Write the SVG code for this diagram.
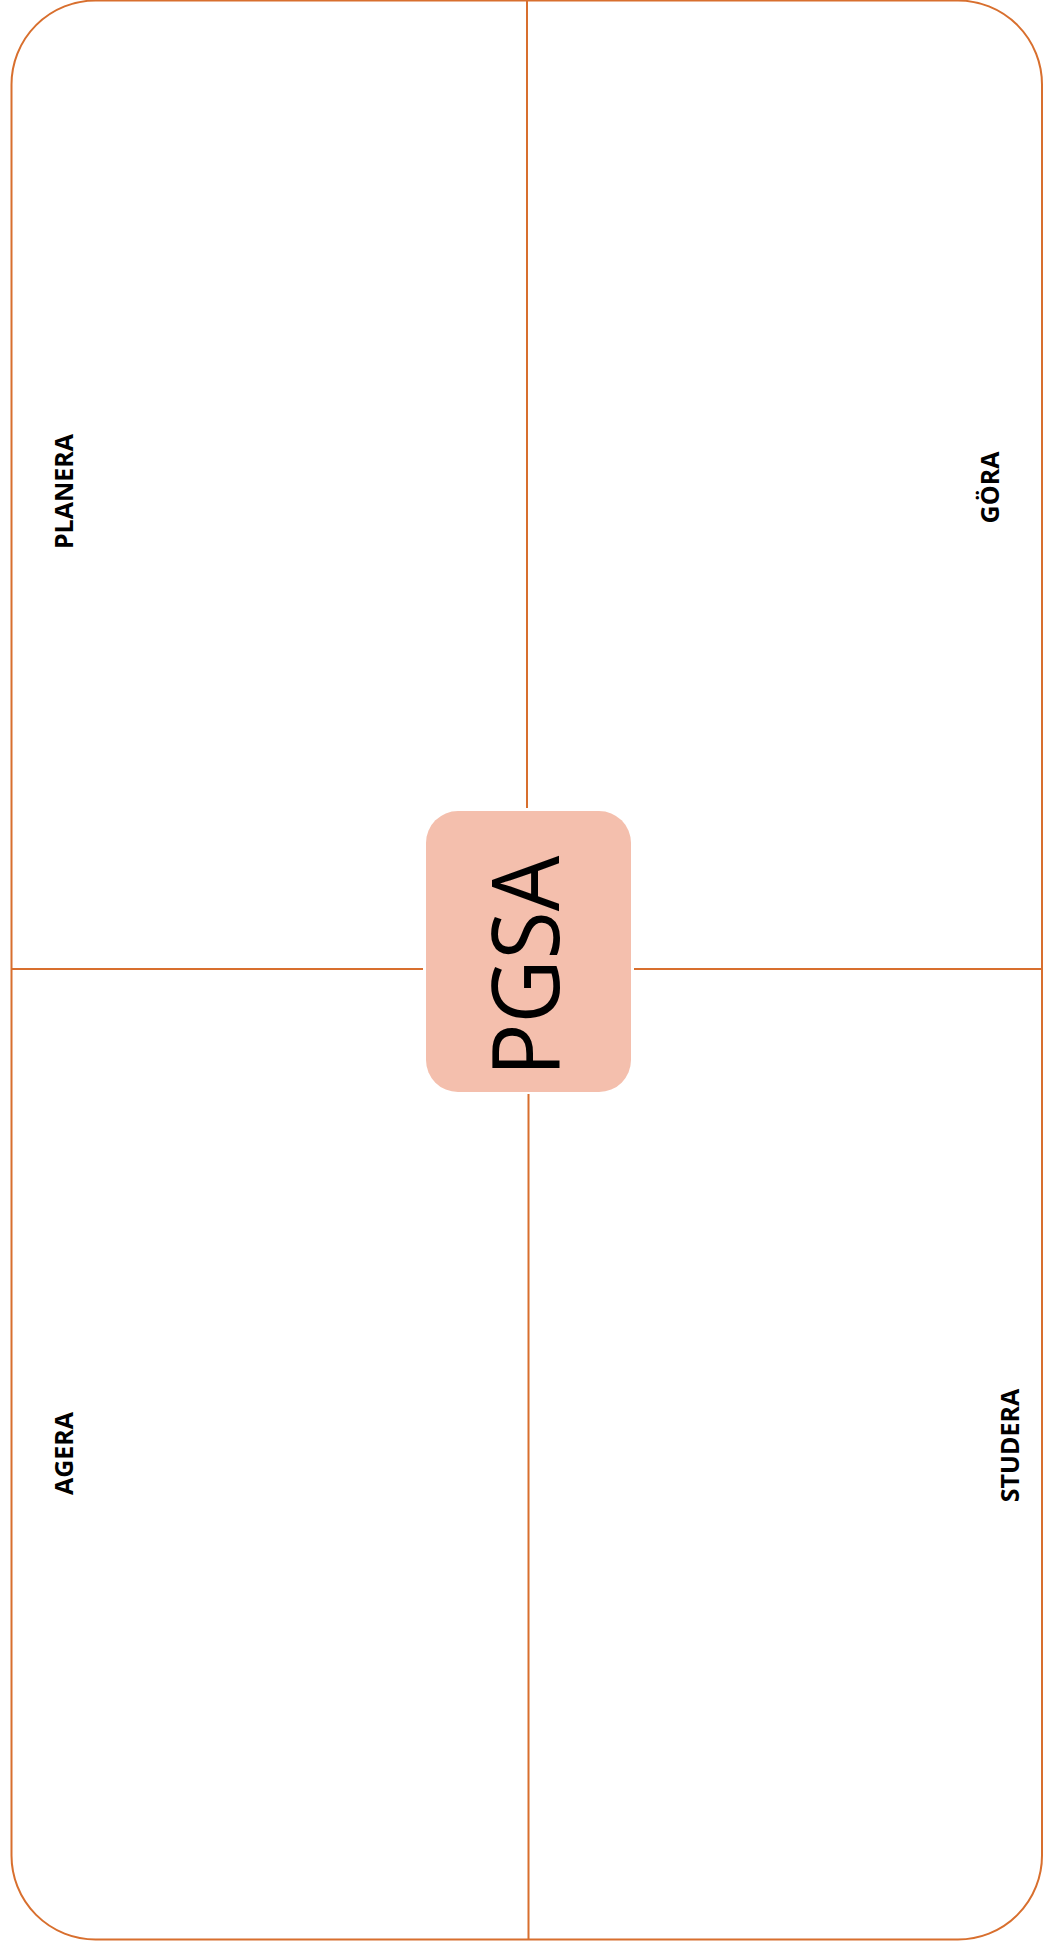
<svg xmlns="http://www.w3.org/2000/svg" width="1043" height="1949" viewBox="0 0 1043 1949">
<style>
.ln{stroke:#D86F2E;stroke-width:2;fill:none}
.lbl{font-family:"Open Sans","Liberation Sans",sans-serif;font-weight:bold;font-size:25px;fill:#000;text-anchor:middle}
.big{font-family:"Open Sans","Liberation Sans",sans-serif;font-size:94px;fill:#000;text-anchor:middle}
</style>
<rect width="1043" height="1949" fill="#fff"/>
<g id="frame">
<rect class="ln" x="11.5" y="0.5" width="1030.5" height="1939" rx="84" ry="84"/>
</g>
<g id="connectors">
<line class="ln" x1="527" y1="0" x2="527" y2="808"/>
<line class="ln" x1="528.5" y1="1094" x2="528.5" y2="1939"/>
<line class="ln" x1="11.5" y1="969" x2="423" y2="969"/>
<line class="ln" x1="634" y1="969" x2="1042" y2="969"/>
</g>
<g id="center">
<rect x="426" y="811" width="205" height="281" rx="32" ry="32" fill="#F4BFAD"/>
<text class="big" transform="translate(559,966) rotate(-90)" textLength="221" lengthAdjust="spacingAndGlyphs">PGSA</text>
</g>
<g id="planera"><text class="lbl" transform="translate(73,491.5) rotate(-90)">PLANERA</text></g>
<g id="gora"><text class="lbl" transform="translate(999,487.5) rotate(-90)">GÖRA</text></g>
<g id="agera"><text class="lbl" transform="translate(73,1453.5) rotate(-90)">AGERA</text></g>
<g id="studera"><text class="lbl" transform="translate(1019,1445.5) rotate(-90)">STUDERA</text></g>
</svg>
